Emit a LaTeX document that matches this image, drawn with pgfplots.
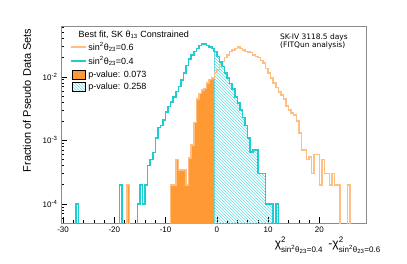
\documentclass[border=0pt]{standalone}
\usepackage{fontspec}
\setmainfont{Liberation Sans}
\newfontfamily\dejavu{DejaVu Sans}
\usepackage{amsmath}
\usepackage{pgfplots}
\pgfplotsset{compat=1.18}
\usetikzlibrary{patterns}
\definecolor{tealline}{RGB}{30,205,210}
\definecolor{tealhatch}{RGB}{100,220,225}
\definecolor{orangefill}{RGB}{255,153,51}
\definecolor{orangeline}{RGB}{255,190,130}
\definecolor{framecol}{RGB}{140,140,140}
\pgfplotsset{
  lineleg/.style={legend image code/.code={\draw[##1] (0pt,0pt) -- (15pt,0pt);}},
  boxleg/.style={legend image code/.code={\path[##1] (1pt,-4.5pt) rectangle (14pt,4.5pt);}},
}
\newcommand{\chisq}[1]{\text{χ}^{\text{2}}_{\text{sin}^{\text{2}}\text{θ}_{\text{23}}\text{=#1}}}
\begin{document}
\begin{tikzpicture}
\path[use as bounding box] (0,0) rectangle (407pt,263pt);
\begin{axis}[
  at={(61pt,40pt)}, anchor=south west,
  width=305pt, height=197pt, scale only axis,
  ymode=log, log basis y=10,
  xmin=-30.4, xmax=29.1, ymin=5e-5, ymax=0.063,
  axis line style={draw=framecol, line width=0.9pt},
  tick pos=left, tick align=inside,
  tick style={black, line width=0.5pt},
  major tick length=6pt, minor tick length=3pt,
  xtick={-30,-20,-10,0,10,20},
  xticklabels={-30,-20,-10,0,10,20},
  minor x tick num=4,
  yticklabel={10\textsuperscript{\pgfmathparse{int(round(\tick))}\pgfmathresult}},
  tick label style={font=\fontsize{8}{9}\selectfont},
  /pgf/number format/assume math mode=true,
  ylabel={Fraction of Pseudo Data Sets},
  ylabel style={font=\fontsize{11}{13}\selectfont, at={(rel axis cs:-0.1115,1.005)}, anchor=east},
  xlabel={$\chisq{0.4}\;\,\text{-}\chisq{0.6}$},
  xlabel style={font=\fontsize{12}{14}\selectfont, at={(rel axis cs:1.06,-0.055)}, anchor=north east},
  legend style={at={(rel axis cs:0.03,0.925)}, anchor=north west, draw=none, fill=none,
    font=\fontsize{9}{10}\selectfont, row sep=1.5pt, inner sep=0pt,
    nodes={inner sep=1.5pt}},
  legend cell align=left,
]
% orange filled p-value region (sin^2 = 0.6, left of cut)
\addplot[const plot, draw=orangefill, fill=orangefill, forget plot] coordinates {
(-18,1e-6) (-17.5,2e-4) (-17,1e-6) (-9,2e-4) (-8.5,2e-4) (-8,5e-4) (-7.5,3.4e-4)
(-7,3.4e-4) (-6.5,3.4e-4) (-6,2e-4) (-5.5,5.3e-4) (-5,8.5e-4) (-4.5,1.9e-3)
(-4,4.5e-3) (-3.5,5.5e-3) (-3,6.2e-3) (-2.5,6.5e-3) (-2,8e-3) (-1.5,9e-3)
(-1,9.6e-3) (-0.5,1e-6)
};
% cyan hatched p-value region (sin^2 = 0.4, right of cut)
\addplot[const plot, draw=tealhatch, pattern=north west lines, pattern color=tealhatch, forget plot] coordinates {
(-0.5,1e-6) (-0.5,0.025) (0,0.021) (0.5,0.0172) (1,0.0145) (1.5,0.0116) (2,0.0095)
(2.5,0.0078) (3,0.0064) (3.5,0.0048) (4,0.0039) (4.5,0.0030) (5,0.0023) (5.5,0.0017)
(6,0.0011) (6.5,6.6e-4) (7,7e-4) (7.5,7e-4) (8,3e-4) (8.5,3e-4) (9,3e-4) (9.5,1e-4)
(10,1e-4) (10.5,1e-4) (11,1e-6) (11.5,1e-4) (12,1e-6)
};
% orange line sin^2 = 0.6
\addplot[const plot, draw=orangeline, line width=1.5pt, forget plot] coordinates {
(-18,1e-6) (-17.5,2e-4) (-17,1e-6) (-9,2e-4) (-8.5,2e-4) (-8,5e-4) (-7.5,3.4e-4)
(-7,3.4e-4) (-6.5,3.4e-4) (-6,2e-4) (-5.5,5.3e-4) (-5,8.5e-4) (-4.5,1.9e-3)
(-4,4.5e-3) (-3.5,5.5e-3) (-3,6.2e-3) (-2.5,6.5e-3) (-2,8e-3) (-1.5,9e-3)
(-1,9.6e-3) (-0.5,0.0116) (0,0.0130) (0.5,0.0155) (1,0.0175) (1.5,0.020) (2,0.022)
(2.5,0.025) (3,0.0266) (3.5,0.028) (4,0.0297) (4.5,0.028) (5,0.0266) (5.5,0.025)
(6,0.0245) (6.5,0.024) (7,0.022) (7.5,0.0207) (8,0.020) (8.5,0.018) (9,0.0165)
(9.5,0.0135) (10,0.0115) (10.5,0.0095) (11,0.008) (11.5,0.0068) (12,0.0058)
(12.5,0.0052) (13,0.0045) (13.5,0.0035) (14,0.0030) (14.5,0.0027) (15,0.0025)
(15.5,0.0020) (16,0.0013) (16.5,7e-4) (17,7e-4) (17.5,5e-4) (18,5.5e-4) (18.5,3e-4)
(19,6e-4) (19.5,6e-4) (20,2e-4) (20.5,5e-4) (21,3e-4) (21.5,3e-4) (22,2e-4)
(22.5,3e-4) (23,2e-4) (23.5,2e-4) (24,1e-6) (25.5,2e-4) (26,1e-6)
};
% cyan line sin^2 = 0.4
\addplot[const plot, draw=tealline, line width=1.6pt, forget plot] coordinates {
(-28,1e-6) (-27.5,1e-4) (-27,1e-6) (-19,2e-4) (-18.5,1e-6) (-15.5,1e-4) (-15,2e-4)
(-14.5,1e-4) (-14,2e-4) (-13.5,4e-4) (-13,5e-4) (-12.5,6.4e-4) (-12,1.1e-3)
(-11.5,1.6e-3) (-11,1.7e-3) (-10.5,2.1e-3) (-10,2.8e-3) (-9.5,3.4e-3) (-9,4.0e-3)
(-8.5,4.8e-3) (-8,5.9e-3) (-7.5,7.0e-3) (-7,9.0e-3) (-6.5,0.0115) (-6,0.015)
(-5.5,0.019) (-5,0.022) (-4.5,0.025) (-4,0.028) (-3.5,0.031) (-3,0.033) (-2.5,0.033)
(-2,0.031) (-1.5,0.0297) (-1,0.028) (-0.5,0.025) (0,0.021) (0.5,0.0172) (1,0.0145)
(1.5,0.0116) (2,0.0095) (2.5,0.0078) (3,0.0064) (3.5,0.0048) (4,0.0039) (4.5,0.0030)
(5,0.0023) (5.5,0.0017) (6,0.0011) (6.5,6.6e-4) (7,7e-4) (7.5,7e-4) (8,3e-4)
(8.5,3e-4) (9,3e-4) (9.5,1e-4) (10,1e-4) (10.5,1e-4) (11,1e-6) (11.5,1e-4) (12,1e-6)
};
\addlegendimage{draw=orangeline, line width=1.5pt, lineleg}
\addlegendentry{sin\textsuperscript{2}θ\textsubscript{23}=0.6}
\addlegendimage{draw=tealline, line width=1.6pt, lineleg}
\addlegendentry{sin\textsuperscript{2}θ\textsubscript{23}=0.4}
\addlegendimage{fill=orangefill, boxleg}
\addlegendentry{p-value: 0.073}
\addlegendimage{pattern=north west lines, pattern color=tealhatch, boxleg}
\addlegendentry{p-value: 0.258}
\node[anchor=west, font=\fontsize{9}{10}\selectfont] at (rel axis cs:0.046,0.955) {Best fit, SK θ\textsubscript{13} Constrained};
\node[anchor=north west, align=left, font=\dejavu\fontsize{7.5}{8.5}\selectfont, inner sep=0pt] at (rel axis cs:0.718,0.962) {SK-IV 3118.5 days\\(FITQun analysis)};
\end{axis}
\end{tikzpicture}
\end{document}
